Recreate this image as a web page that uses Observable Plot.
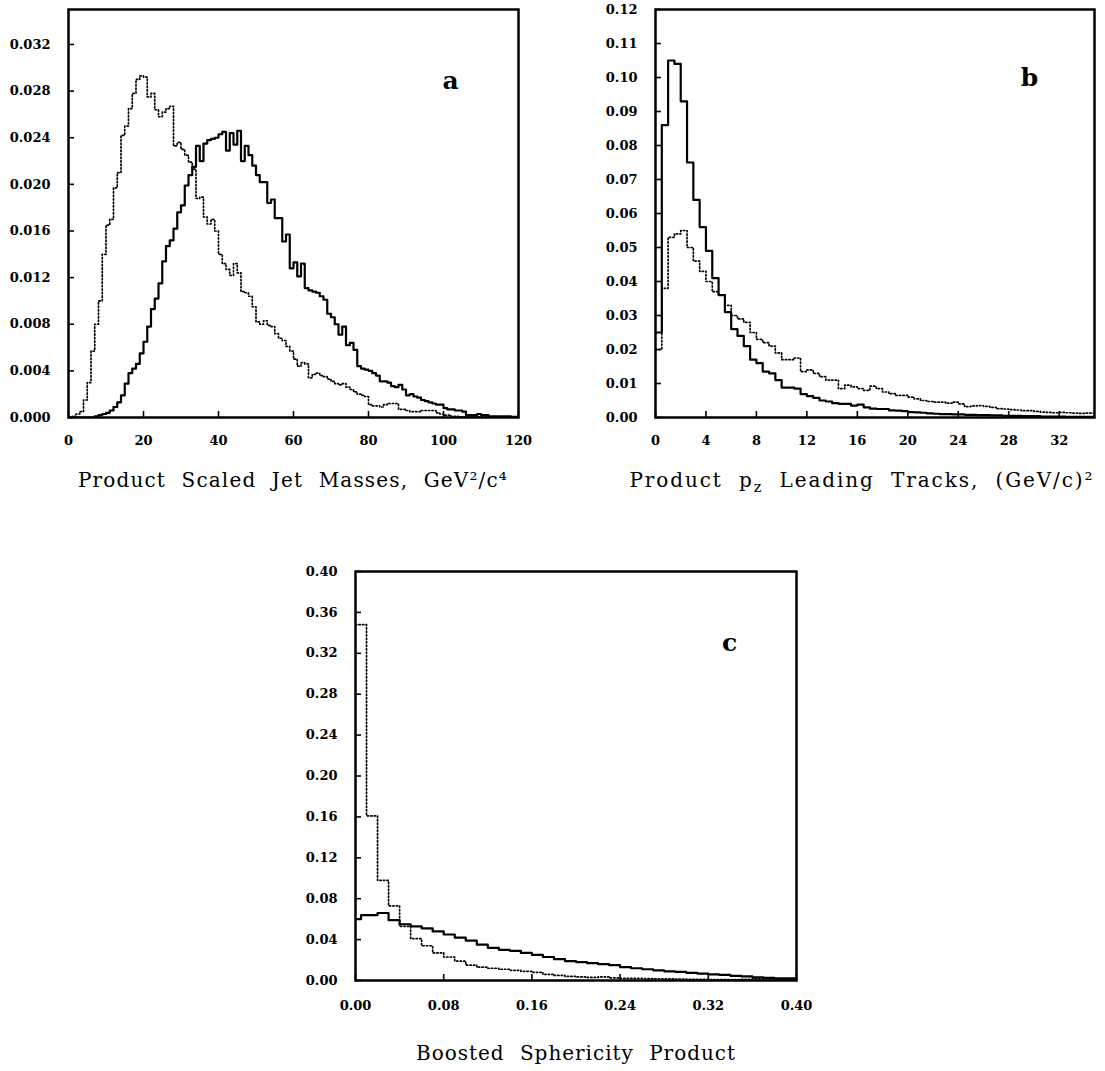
<!DOCTYPE html>
<html><head><meta charset="utf-8">
<script src="https://cdn.jsdelivr.net/npm/d3@7"></script>
<script src="https://cdn.jsdelivr.net/npm/@observablehq/plot@0.6"></script>
<style>
body{margin:0;background:#fff;}
#wrap{position:relative;width:1105px;height:1071px;overflow:hidden;background:#fff;}
.panel{position:absolute;}
.title{position:absolute;font-family:"DejaVu Serif",serif;font-size:20px;line-height:20px;color:#000;white-space:nowrap;word-spacing:8px;}
.title sub{font-size:0.72em;vertical-align:-0.35em;line-height:0;}
</style></head><body>
<div id="wrap">
  <div class="panel" id="pa"></div>
  <div class="panel" id="pb"></div>
  <div class="panel" id="pc"></div>
  <div class="title" id="ta">Product Scaled Jet Masses, GeV²/c⁴</div>
  <div class="title" id="tb">Product p<sub>z</sub> Leading Tracks, (GeV/c)²</div>
  <div class="title" id="tc">Boosted Sphericity Product</div>
</div>
<script>
// ---------- Panel a: product scaled jet masses (bins of 1 GeV²/c⁴) ----------
const massEdges = d3.range(0, 121, 1);
const massSolid = [
  0,0,0,0,0,0,0,0.0001,0.0002,0.0003,
  0.0004,0.0006,0.0009,0.0013,0.0019,0.0029,0.0038,0.0042,0.0046,0.0055,
  0.0065,0.0078,0.0093,0.0102,0.0115,0.0134,0.0147,0.0152,0.0162,0.0176,
  0.0182,0.0199,0.0208,0.0215,0.0233,0.0220,0.0235,0.0238,0.0239,0.0240,
  0.0243,0.0245,0.0229,0.0244,0.0234,0.0246,0.0220,0.0233,0.0225,0.0216,
  0.0208,0.0202,0.0202,0.0184,0.0187,0.0171,0.0171,0.0151,0.0157,0.0128,
  0.0133,0.0121,0.0132,0.0111,0.0109,0.0108,0.0107,0.0104,0.0101,0.0089,
  0.0086,0.0080,0.0071,0.0078,0.0062,0.0064,0.0058,0.0044,0.0042,0.0041,
  0.0040,0.0038,0.0036,0.0031,0.0031,0.0030,0.0027,0.0026,0.0028,0.0024,
  0.0019,0.0020,0.0018,0.0017,0.0015,0.0014,0.0013,0.0012,0.0011,0.0011,
  0.0008,0.0007,0.0007,0.0006,0.0006,0.0005,0.0002,0.0002,0.0002,0.0003,
  0.0002,0.0002,0.0001,0.0001,0.0001,0.0001,0.0001,0.0001,0.00005,0.00005
];
const massDotted = [
  0,0.0001,0.0003,0.0005,0.0015,0.0030,0.0057,0.0080,0.0100,0.0140,
  0.0165,0.0170,0.0197,0.0210,0.0242,0.0250,0.0265,0.0278,0.0290,0.0293,
  0.0292,0.0275,0.0278,0.0264,0.0258,0.0262,0.0265,0.0267,0.0233,0.0236,
  0.0230,0.0225,0.0219,0.0213,0.0188,0.0189,0.0172,0.0166,0.0170,0.0160,
  0.0140,0.0132,0.0127,0.0122,0.0132,0.0124,0.0108,0.0107,0.0104,0.0095,
  0.0082,0.0080,0.0083,0.0079,0.0078,0.0072,0.0068,0.0066,0.0061,0.0057,
  0.0050,0.0044,0.0047,0.0046,0.0034,0.0037,0.0038,0.0036,0.0035,0.0033,
  0.0031,0.0029,0.0028,0.0029,0.0026,0.0024,0.0022,0.0020,0.0019,0.0018,
  0.0011,0.0010,0.0010,0.0009,0.0011,0.0012,0.0012,0.0012,0.0007,0.0007,
  0.0006,0.0005,0.0005,0.0005,0.0006,0.0006,0.0006,0.0006,0.0004,0.0003,
  0.0002,0.0002,0.0001,0.0001,0.00005,0.00005,0.00005,0.00005,0.00005,0.00005,
  0.00005,0.00005,0.00005,0,0,0,0,0,0,0
];
const massXTicks = [0,20,40,60,80,100,120];
const massYTicks = [0,0.004,0.008,0.012,0.016,0.020,0.024,0.028,0.032];

// ---------- Panel b: product pz of leading tracks (bins of 0.5 (GeV/c)²) ----------
const pzEdges = d3.range(0, 35.5, 0.5);
const pzSolid = [
  0.025,0.086,0.105,0.104,0.093,0.075,0.064,0.056,0.049,0.041,
  0.036,0.031,0.026,0.024,0.021,0.017,0.016,0.0135,0.013,0.011,
  0.0088,0.0088,0.0085,0.0069,0.0063,0.0058,0.0050,0.0047,0.0042,0.0040,
  0.0040,0.0035,0.0038,0.0030,0.0026,0.0025,0.0025,0.0021,0.0020,0.0019,
  0.0016,0.0015,0.0014,0.0012,0.0011,0.0010,0.0010,0.0009,0.0009,0.0008,
  0.0008,0.0007,0.0007,0.0006,0.0006,0.0005,0.0005,0.0005,0.0004,0.0004,
  0.0004,0.0003,0.0003,0.0003,0.0003,0.0002,0.0002,0.0002,0.0002,0.0002
];
const pzDotted = [
  0.020,0.038,0.053,0.054,0.055,0.050,0.046,0.043,0.040,0.037,
  0.036,0.033,0.030,0.029,0.028,0.025,0.023,0.022,0.021,0.019,
  0.017,0.017,0.0175,0.0135,0.014,0.013,0.012,0.011,0.011,0.0085,
  0.0095,0.009,0.0085,0.008,0.0092,0.0085,0.0075,0.007,0.0065,0.0065,
  0.006,0.0055,0.005,0.0047,0.0045,0.0045,0.0042,0.0045,0.004,0.0032,
  0.0034,0.0035,0.0033,0.003,0.0026,0.0025,0.0023,0.0022,0.002,0.002,
  0.0018,0.0016,0.0015,0.0014,0.0015,0.0014,0.0013,0.0012,0.0013,0.0013
];
const pzXTicks = [0,4,8,12,16,20,24,28,32];
const pzYTicks = [0,0.01,0.02,0.03,0.04,0.05,0.06,0.07,0.08,0.09,0.10,0.11,0.12];

// ---------- Panel c: boosted sphericity product (bins of 0.01, first split) ----------
const sphEdges = [0, 0.005].concat(d3.range(1, 41).map(i => i / 100));
const sphSolid = [
  0.060,0.064,0.064,0.066,0.059,0.055,0.053,0.051,0.048,0.045,
  0.042,0.039,0.035,0.032,0.030,0.029,0.027,0.025,0.023,0.021,
  0.019,0.018,0.017,0.016,0.015,0.013,0.012,0.011,0.010,0.009,
  0.0085,0.0075,0.0068,0.006,0.0055,0.0045,0.004,0.003,0.0026,0.0022,
  0.002
];
const sphDotted = [
  0.348,0.348,0.161,0.098,0.073,0.053,0.041,0.034,0.027,0.023,
  0.019,0.015,0.013,0.012,0.011,0.010,0.009,0.008,0.006,0.005,
  0.004,0.0035,0.003,0.0035,0.0025,0.002,0.002,0.0018,0.0016,0.0015,
  0.0014,0.0012,0.0012,0.001,0.001,0.001,0.0012,0.0015,0.0015,0.0012,
  0.0012
];
const sphXTicks = [0,0.08,0.16,0.24,0.32,0.40];
const sphYTicks = [0,0.04,0.08,0.12,0.16,0.20,0.24,0.28,0.32,0.36,0.40];

function steps(edges, values) {
  const pts = values.map((v, i) => ({x: edges[i], y: v}));
  pts.push({x: edges[values.length], y: values[values.length - 1]});
  return pts;
}

function panel(cfg) {
  const plotW = cfg.width - cfg.ml - cfg.mr;
  const plotH = cfg.height - cfg.mt - cfg.mb;
  return Plot.plot({
    width: cfg.width, height: cfg.height,
    marginLeft: cfg.ml, marginRight: cfg.mr, marginTop: cfg.mt, marginBottom: cfg.mb,
    x: {domain: cfg.xDomain, label: null},
    y: {domain: cfg.yDomain, label: null},
    style: {fontFamily: "'DejaVu Serif', serif", fontSize: "13px", fontWeight: "bold", color: "#000", background: "#fff"},
    marks: [
      Plot.line(steps(cfg.edges, cfg.dotted), {x: "x", y: "y", curve: "step-after", stroke: "#000", strokeWidth: 1.7, strokeDasharray: "1.3,2.2", clip: true}),
      Plot.line(steps(cfg.edges, cfg.solid), {x: "x", y: "y", curve: "step-after", stroke: "#000", strokeWidth: 2.2, clip: true}),
      Plot.ruleX(cfg.xTicks, {x: d => d, insetTop: plotH - 6, stroke: "#000", strokeWidth: 1.6}),
      Plot.ruleY(cfg.yTicks, {y: d => d, insetRight: plotW - 6, stroke: "#000", strokeWidth: 1.6}),
      Plot.axisX({ticks: cfg.xTicks, tickSize: 0, tickPadding: cfg.xPad, tickFormat: cfg.xFmt, label: null}),
      Plot.axisY({ticks: cfg.yTicks, tickSize: 0, tickPadding: 18, tickFormat: cfg.yFmt, label: null}),
      Plot.frame({stroke: "#000", strokeWidth: 2.5}),
      Plot.text([cfg.letter], {frameAnchor: "top-right", dx: cfg.ldx, dy: cfg.ldy, textAnchor: "middle", lineAnchor: "middle", fontSize: 25, fontWeight: "bold"})
    ]
  });
}

function place(id, left, top, node) {
  const el = document.getElementById(id);
  el.style.left = left + "px";
  el.style.top = top + "px";
  el.appendChild(node);
}

place("pa", 0, 0, panel({
  width: 545, height: 455, ml: 68, mr: 27, mt: 9, mb: 38,
  edges: massEdges, solid: massSolid, dotted: massDotted,
  xDomain: [0, 120], yDomain: [0, 0.035],
  xTicks: massXTicks, yTicks: massYTicks, xPad: 18,
  xFmt: d3.format("d"), yFmt: d3.format(".3f"),
  letter: "a", ldx: -68, ldy: 71
}));

place("pb", 560, 0, panel({
  width: 545, height: 455, ml: 95, mr: 11, mt: 9, mb: 38,
  edges: pzEdges, solid: pzSolid, dotted: pzDotted,
  xDomain: [0, 34.8], yDomain: [0, 0.12],
  xTicks: pzXTicks, yTicks: pzYTicks, xPad: 18,
  xFmt: d3.format("d"), yFmt: d3.format(".2f"),
  letter: "b", ldx: -65, ldy: 68
}));

place("pc", 280, 560, panel({
  width: 540, height: 460, ml: 75, mr: 24, mt: 11, mb: 40,
  edges: sphEdges, solid: sphSolid, dotted: sphDotted,
  xDomain: [0, 0.40], yDomain: [0, 0.40],
  xTicks: sphXTicks, yTicks: sphYTicks, xPad: 20,
  xFmt: d3.format(".2f"), yFmt: d3.format(".2f"),
  letter: "c", ldx: -67, ldy: 71
}));

function fitTitle(id, center, top, target) {
  const el = document.getElementById(id);
  el.style.top = top + "px";
  const n = el.textContent.length;
  const w = el.getBoundingClientRect().width;
  el.style.letterSpacing = Math.max(0, (target - w) / n) + "px";
  el.style.left = (center - el.getBoundingClientRect().width / 2) + "px";
}
fitTitle("ta", 293, 470, 430);
fitTitle("tb", 862, 470, 465);
fitTitle("tc", 576, 1043, 320);
</script>
</body></html>
